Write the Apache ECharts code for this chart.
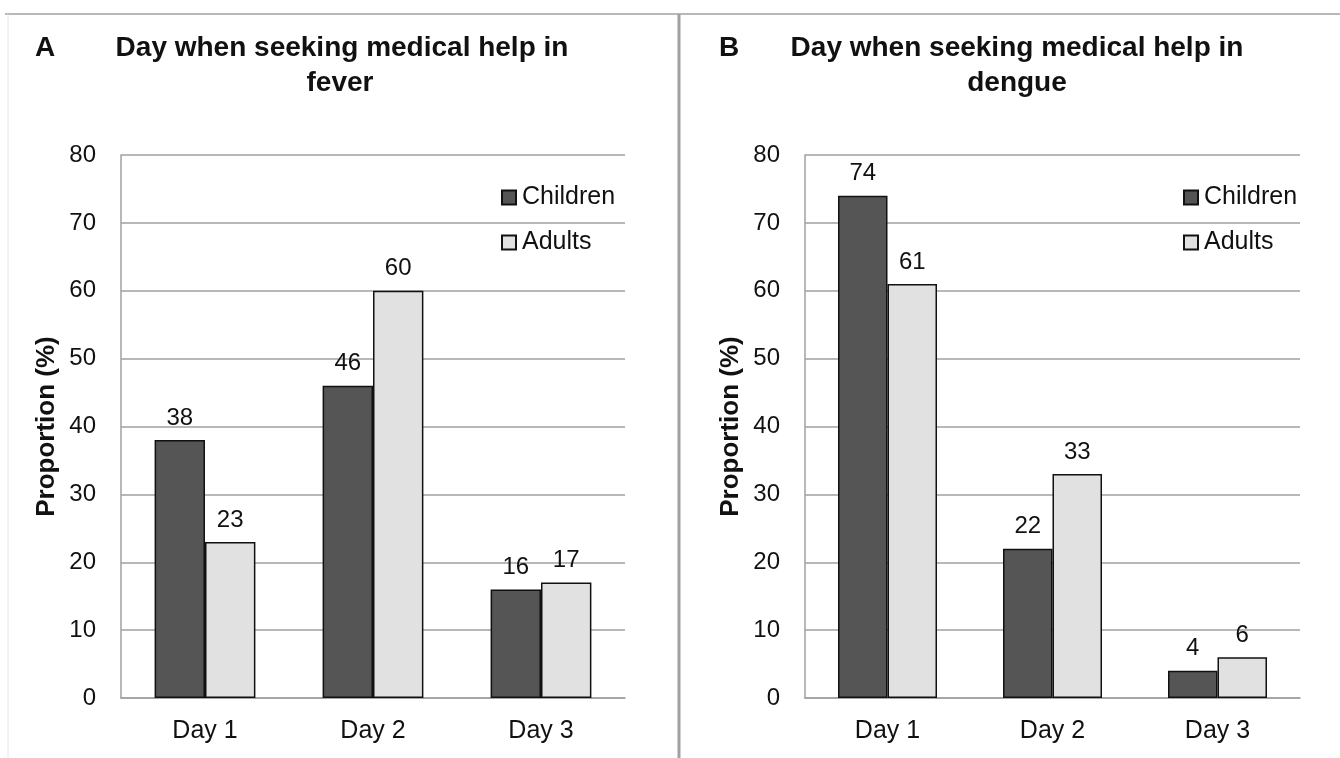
<!DOCTYPE html>
<html><head><meta charset="utf-8">
<script src="https://cdn.jsdelivr.net/npm/echarts@6/dist/echarts.min.js"></script>
<style>html,body{margin:0;padding:0;background:#fff}#c{width:1340px;height:758px}</style>
</head><body><div id="c"></div>
<script>
const categories = ['Day 1', 'Day 2', 'Day 3'];
const feverChildren = [38, 46, 16];
const feverAdults = [23, 60, 17];
const dengueChildren = [74, 22, 4];
const dengueAdults = [61, 33, 6];
const yTicks = [0, 10, 20, 30, 40, 50, 60, 70, 80];

const FONT = "'Liberation Sans', Arial, sans-serif";
const chart = echarts.init(document.getElementById('c'));
const grids = [
  {left: 121, top: 155, width: 504, height: 543},
  {left: 805, top: 155, width: 495, height: 543}
];
function xAx(i){return {type:'category', gridIndex:i, data:categories,
  axisLine:{lineStyle:{color:'#a0a0a0', width:1.5}}, axisTick:{show:false},
  axisLabel:{color:'#111', fontSize:25, fontFamily:FONT, margin:21}};}
function yAx(i){return {type:'value', gridIndex:i, min:yTicks[0], max:yTicks[yTicks.length-1], interval:10,
  name:'Proportion (%)', nameLocation:'middle', nameGap:61,
  nameTextStyle:{fontSize:26, fontWeight:'bold', color:'#111', fontFamily:FONT},
  axisLine:{show:true, lineStyle:{color:'#a0a0a0', width:1.5}}, axisTick:{show:false},
  splitLine:{lineStyle:{color:'#a0a0a0', width:1.5}},
  axisLabel:{color:'#111', fontSize:24, fontFamily:FONT, margin:25}};}
function ser(name, data, i, color){return {type:'bar', name:name, data:data, xAxisIndex:i, yAxisIndex:i,
  barGap:'0%', barCategoryGap:'40%',
  itemStyle:{color:color, borderColor:'#111', borderWidth:1.5},
  label:{show:true, position:'top', distance:10, fontSize:24, color:'#111', fontFamily:FONT}};}
const dark = '#555555', light = '#e1e1e1';
function legend(left){return {orient:'vertical', left:left, top:185, itemWidth:14, itemHeight:14, itemGap:20,
  padding:0, icon:'rect', data:['Children','Adults'],
  textStyle:{fontSize:25, color:'#111', fontFamily:FONT, padding:[0,0,0,1]}};}
function txt(x, y, t, align){return {type:'text', x:x, y:y,
  style:{text:t, fill:'#111', font:"bold 28px " + FONT, textAlign:align||'center', textVerticalAlign:'middle'}};}
chart.setOption({
  animation:false,
  grid: grids,
  xAxis:[xAx(0), xAx(1)],
  yAxis:[yAx(0), yAx(1)],
  legend:[legend(501), legend(1183)],
  series:[
    ser('Children', feverChildren, 0, dark), ser('Adults', feverAdults, 0, light),
    ser('Children', dengueChildren, 1, dark), ser('Adults', dengueAdults, 1, light)
  ],
  graphic:[
    {type:'line', shape:{x1:5, y1:14, x2:1340, y2:14}, style:{stroke:'#a0a0a0', lineWidth:1.5}},
    {type:'line', shape:{x1:8, y1:14, x2:8, y2:758}, style:{stroke:'#e6e6e6', lineWidth:1}},
    {type:'line', shape:{x1:679, y1:14, x2:679, y2:758}, style:{stroke:'#a0a0a0', lineWidth:3}},
    txt(45, 48, 'A', 'center'),
    txt(342, 48, 'Day when seeking medical help in'),
    txt(340, 83, 'fever'),
    txt(729, 48, 'B', 'center'),
    txt(1017, 48, 'Day when seeking medical help in'),
    txt(1017, 83, 'dengue')
  ]
});
</script></body></html>
